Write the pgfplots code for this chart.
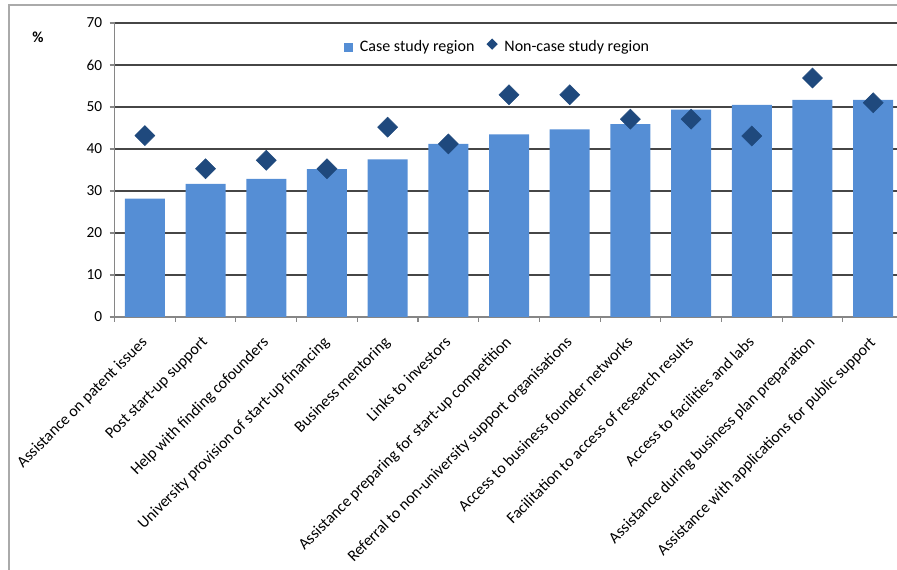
\documentclass[border=0pt]{standalone}
\usepackage{pgfplots}
\pgfplotsset{compat=1.18}
\usepackage{fontspec}
\setmainfont{Carlito}
\definecolor{barblue}{RGB}{85,142,213}
\definecolor{darkblue}{RGB}{31,73,125}
\definecolor{gridgray}{RGB}{70,70,70}
\definecolor{axisgray}{RGB}{134,134,134}
\definecolor{framegray}{RGB}{170,170,170}

% Share of respondents, by type of support
\pgfplotstableread{
x case noncase
0  28.2 43.2
1  31.7 35.3
2  32.9 37.3
3  35.2 35.3
4  37.5 45.2
5  41.2 41.2
6  43.5 52.9
7  44.7 52.9
8  45.9 47.1
9  49.4 47.1
10 50.5 43.1
11 51.7 56.9
12 51.7 51.0
}\supportdata

\begin{document}
\begin{tikzpicture}
\useasboundingbox (0,0) rectangle (672.75pt,427.5pt);
% chart frame
\draw[framegray, line width=0.8pt] (6.75pt,-5pt) -- (6.75pt,423.75pt) -- (680pt,423.75pt);
\node[font=\fontsize{11.5}{13}\selectfont\bfseries] at (28.5pt,399.5pt) {\%};
\begin{axis}[
  at={(85.9pt,189.75pt)}, anchor=south west,
  scale only axis,
  width=591.75pt, height=220.5pt,
  xmin=-0.5, xmax=12.5,
  ymin=0, ymax=70,
  ytick={0,10,...,70},
  xtick={0,...,12},
  minor xtick={-0.5,0.5,...,12.5},
  xticklabels={
    Assistance on patent issues,
    Post start-up support,
    Help with finding cofounders,
    University provision of start-up financing,
    Business mentoring,
    Links to investors,
    Assistance preparing for start-up competition,
    Referral to non-university support organisations,
    Access to business founder networks,
    Facilitation to access of research results,
    Access to facilities and labs,
    Assistance during business plan preparation,
    Assistance with applications for public support},
  axis lines*=left,
  axis line style={draw=axisgray, line width=0.8pt},
  tick align=outside,
  major tick length=3.75pt,
  minor tick length=3.75pt,
  major x tick style={draw=none},
  minor x tick style={draw=axisgray, line width=0.8pt},
  major y tick style={draw=axisgray, line width=0.8pt},
  ymajorgrids,
  grid style={draw=gridgray, line width=0.8pt},
  tick label style={font=\fontsize{11.5}{13}\selectfont},
  /pgf/number format/assume math mode=true,
  yticklabel style={xshift=-2pt},
  xticklabel style={font=\fontsize{12}{14}\selectfont, rotate=45, anchor=north east, inner sep=1pt, xshift=-8.5pt, yshift=-3.5pt},
  legend columns=2,
  legend style={draw=none, fill=none, at={(0.486,0.918)}, anchor=center,
    font=\fontsize{12}{14}\selectfont,
    /tikz/every odd column/.append style={column sep=3pt},
    /tikz/every even column/.append style={column sep=7pt}},
  legend cell align=left,
  clip=false,
]
\addplot[ybar, bar width=30pt, fill=barblue, draw=none,
  legend image code/.code={\fill[barblue] (0pt,-3.4pt) rectangle (6.8pt,3.4pt);}]
  table[x=x, y=case] {\supportdata};
\addlegendentry{Case study region}
\addplot[only marks, mark=square*, mark size=5.3pt, mark options={rotate=45, fill=darkblue, draw=darkblue},
  legend image code/.code={\node[fill=darkblue, rotate=45, minimum size=6pt, inner sep=0pt] at (3.4pt,0) {};}]
  table[x=x, y=noncase] {\supportdata};
\addlegendentry{Non-case study region}
\end{axis}
\end{tikzpicture}
\end{document}
